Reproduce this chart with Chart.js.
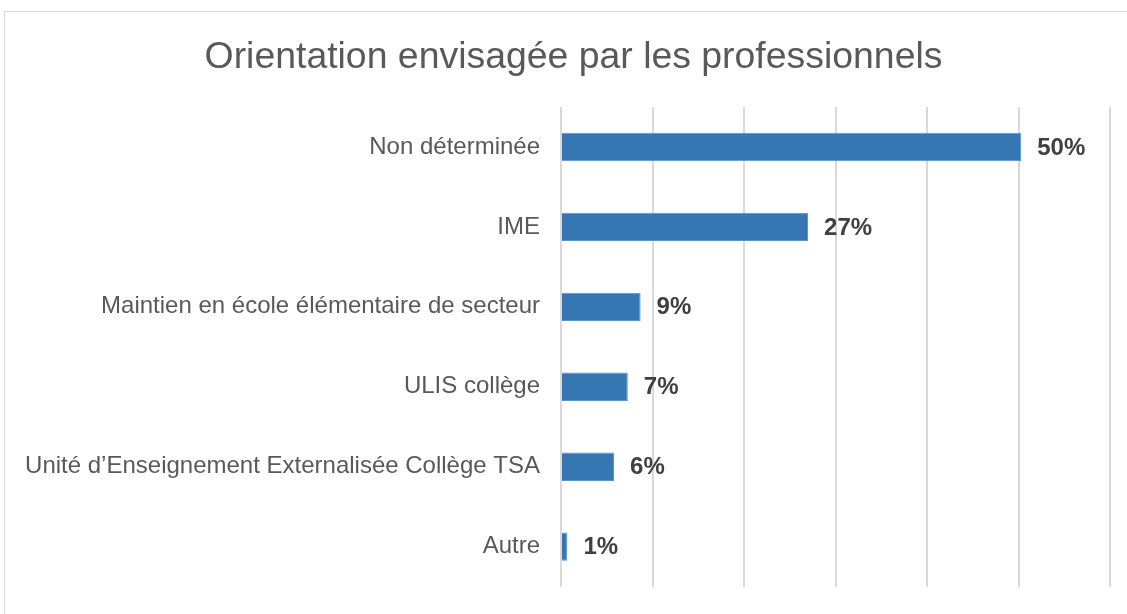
<!DOCTYPE html>
<html>
<head>
<meta charset="utf-8">
<script src="https://cdn.jsdelivr.net/npm/chart.js@4/dist/chart.umd.min.js"></script>
<style>
  html, body { margin: 0; padding: 0; background: #fff; overflow: hidden; }
  #cadre { position: absolute; left: 4px; top: 11px; width: 1200px; height: 700px; border: 1px solid #d9d9d9; }
  #graficoOrientation { position: absolute; left: 0; top: 0; }
  #titre {
    position: absolute; left: 0; top: 33px; width: 1147px; text-align: center;
    font-family: "Liberation Sans", Arial, sans-serif; font-size: 37.4px; line-height: 45px;
    color: #595959; white-space: nowrap;
  }
</style>
</head>
<body>
<div id="cadre"></div>
<canvas id="graficoOrientation" width="1127" height="614"></canvas>
<div id="titre"></div>
<script>
const titre = 'Orientation envisagée par les professionnels';
const categories = [
  'Non déterminée',
  'IME',
  'Maintien en école élémentaire de secteur',
  'ULIS collège',
  'Unité d\u2019Enseignement Externalisée Collège TSA',
  'Autre'
];
// valeurs (%)
const valeurs = [50.3, 27.0, 8.7, 7.3, 5.8, 0.7];
const etiquettes = ['50%', '27%', '9%', '7%', '6%', '1%'];

const police = '"Liberation Sans", Arial, sans-serif';

document.getElementById('titre').textContent = titre;

// Plugin pour écrire les pourcentages à droite des barres
const etiquettesBarres = {
  id: 'etiquettesBarres',
  afterDatasetsDraw(chart) {
    const c = chart.ctx;
    const meta = chart.getDatasetMeta(0);
    c.save();
    c.font = 'bold 24px ' + police;
    c.fillStyle = '#404040';
    c.textAlign = 'left';
    c.textBaseline = 'middle';
    meta.data.forEach((barre, i) => {
      c.fillText(etiquettes[i], barre.x + 16, barre.y + 1);
    });
    c.restore();
  }
};

const chart = new Chart(document.getElementById('graficoOrientation'), {
  type: 'bar',
  data: {
    labels: categories,
    datasets: [{
      data: valeurs,
      backgroundColor: '#3677b3',
      borderColor: '#5a94c8',
      borderWidth: 1,
      categoryPercentage: 1,
      barPercentage: 0.355
    }]
  },
  options: {
    indexAxis: 'y',
    responsive: false,
    animation: false,
    layout: { padding: { left: 0, right: 17, top: 107, bottom: 24 } },
    plugins: {
      legend: { display: false },
      tooltip: { enabled: false },
      title: { display: false }
    },
    scales: {
      x: {
        min: 0,
        max: 60,
        ticks: { display: false, stepSize: 10 },
        grid: { color: '#d9d9d9', lineWidth: 2, drawTicks: false },
        border: { display: false },
        afterFit(scale) { scale.height = 0; }
      },
      y: {
        grid: { display: false },
        border: { display: false },
        ticks: {
          color: '#595959',
          padding: 13,
          font: { family: police, size: 24 }
        },
        afterFit(scale) { scale.width = 561; }
      }
    }
  },
  plugins: [etiquettesBarres]
});
</script>
</body>
</html>
